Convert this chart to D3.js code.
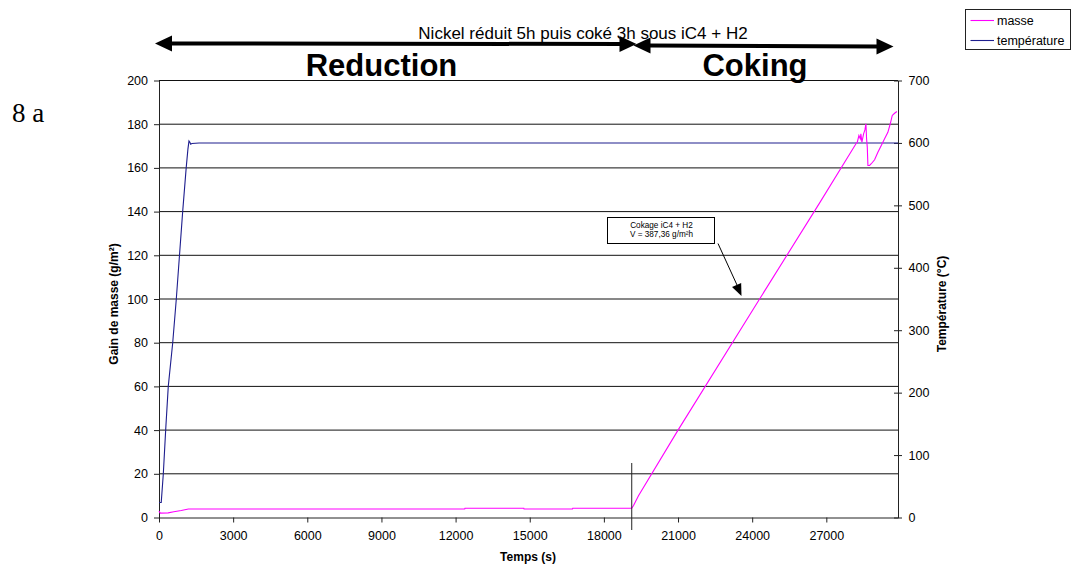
<!DOCTYPE html>
<html><head><meta charset="utf-8">
<script src="https://cdn.jsdelivr.net/npm/d3@7"></script>
<style>
html,body{margin:0;padding:0;background:#fff;}
svg{display:block;font-family:"Liberation Sans",Arial,sans-serif;}
</style></head>
<body>
<svg id="chart" width="1071" height="568"></svg>
<script>
// ---- data ----
const timeTicks = [0, 3000, 6000, 9000, 12000, 15000, 18000, 21000, 24000, 27000];
const massTicks = [0, 20, 40, 60, 80, 100, 120, 140, 160, 180, 200];
const tempTicks = [0, 100, 200, 300, 400, 500, 600, 700];

const tempTime  = [0, 90, 175, 270, 375, 555, 700, 958, 1100, 1170, 1213, 1250, 1282, 1330, 1620, 29900];
const tempValue = [24, 24, 70, 140, 210, 280, 350, 490, 560, 590, 603, 601, 598, 599, 600, 600];

const massTime  = [0, 50, 370, 600, 900, 1190, 12370, 12380, 14760, 14770, 16730, 16740, 19127, 19200, 19400,
                   21000, 24300, 26730, 28212, 28253, 28318, 28375, 28398, 28440, 28508, 28561, 28602, 28629,
                   28657, 28683, 28750, 28819, 28953, 29086, 29223, 29357, 29490, 29587, 29668, 29762, 29855];
const massValue = [3, 2.0, 2.1, 2.6, 3.2, 3.9, 3.9, 4.2, 4.2, 3.9, 3.9, 4.2, 4.2, 5.5, 10,
                   40, 100, 144, 171.3, 171.8, 174.8, 173.3, 175.6, 171.8, 175.6, 177.4, 180.2, 173.3,
                   169.5, 161.1, 161.1, 161.9, 163.7, 167.2, 170.3, 173.3, 176.3, 180.2, 184, 185, 185.8];

const seriesNames = ["masse", "température"];
const seriesColors = ["#ff00ff", "#1e1e8e"];
const switchTime = 19127;
const annotationLines = ["Cokage iC4 + H2", "V = 387,36 g/m²h"];
const titleText = "Nickel réduit 5h puis coké 3h sous iC4 + H2";

// ---- layout ----
const svg = d3.select("#chart");
const x  = d3.scaleLinear().domain([0, 29900]).range([159, 898]);
const yL = d3.scaleLinear().domain([0, 200]).range([517.5, 80.5]);
const yR = d3.scaleLinear().domain([0, 700]).range([517.5, 80.5]);

// gridlines
svg.append("g").selectAll("line").data(massTicks.filter(d => d > 0)).join("line")
  .attr("x1", x(0)).attr("x2", x(29900))
  .attr("y1", d => yL(d)).attr("y2", d => yL(d))
  .attr("stroke", "#111").attr("stroke-width", 1);

// axes
const axisFont = g => g.selectAll("text").attr("font-size", 12.5).attr("fill", "#000")
  .attr("font-family", "Liberation Sans, Arial, sans-serif");
const axisStroke = g => { g.selectAll("path,line").attr("stroke", "#222"); };

const gL = svg.append("g").attr("transform", `translate(${x(0)},0)`)
  .call(d3.axisLeft(yL).tickValues(massTicks).tickSize(5).tickSizeOuter(0).tickPadding(6));
gL.call(axisFont).call(axisStroke);

const gB = svg.append("g").attr("transform", `translate(0,${yL(0)})`)
  .call(d3.axisBottom(x).tickValues(timeTicks).tickSize(5).tickSizeOuter(0).tickPadding(9).tickFormat(d3.format("d")));
gB.call(axisFont).call(axisStroke);

const gR = svg.append("g").attr("transform", `translate(${x(29900)},0)`)
  .call(d3.axisRight(yR).tickValues(tempTicks).tickSize(4).tickSizeOuter(0).tickPadding(6.5));
gR.call(axisFont).call(axisStroke);
gR.selectAll(".tick line").attr("x1", -4).attr("x2", 4);

// series
const massLine = d3.line().x((d, i) => x(massTime[i])).y(d => yL(d));
const tempLine = d3.line().x((d, i) => x(tempTime[i])).y(d => yR(d));

svg.append("path").datum(tempValue).attr("d", tempLine)
  .attr("fill", "none").attr("stroke", seriesColors[1]).attr("stroke-width", 1.1);
svg.append("path").datum(massValue).attr("d", massLine)
  .attr("fill", "none").attr("stroke", seriesColors[0]).attr("stroke-width", 1.1);

// switch marker
svg.append("line").attr("x1", x(switchTime)).attr("x2", x(switchTime))
  .attr("y1", 463).attr("y2", 530).attr("stroke", "#222").attr("stroke-width", 1);

// axis titles
svg.append("text").attr("transform", "translate(118,304) rotate(-90)")
  .attr("text-anchor", "middle").attr("font-size", 12).attr("font-weight", "bold")
  .text("Gain de masse (g/m²)");
svg.append("text").attr("transform", "translate(946,304) rotate(-90)")
  .attr("text-anchor", "middle").attr("font-size", 12).attr("font-weight", "bold")
  .text("Température (°C)");
svg.append("text").attr("x", 528).attr("y", 561)
  .attr("text-anchor", "middle").attr("font-size", 12).attr("font-weight", "bold")
  .text("Temps (s)");

// figure label
svg.append("text").attr("x", 12).attr("y", 122)
  .attr("font-family", "Liberation Serif, Times New Roman, serif").attr("font-size", 27)
  .text("8 a");

// title
svg.append("text").attr("x", 583).attr("y", 39).attr("text-anchor", "middle")
  .attr("font-size", 17).text(titleText);

// phase arrows
function arrow(x1, y1, x2, y2) {
  const hl = 17, hw = 8;
  svg.append("line").attr("x1", x1 + hl - 2).attr("y1", y1).attr("x2", x2 - hl + 2).attr("y2", y2)
    .attr("stroke", "#000").attr("stroke-width", 4);
  svg.append("polygon").attr("fill", "#000")
    .attr("points", `${x1},${y1} ${x1 + hl},${y1 - hw} ${x1 + hl},${y1 + hw}`);
  svg.append("polygon").attr("fill", "#000")
    .attr("points", `${x2},${y2} ${x2 - hl},${y2 - hw} ${x2 - hl},${y2 + hw}`);
}
arrow(155, 43.5, 636.5, 44);
arrow(633.5, 45.5, 893.5, 46.5);

svg.append("text").attr("x", 381.5).attr("y", 76).attr("text-anchor", "middle")
  .attr("font-size", 31).attr("font-weight", "bold").text("Reduction");
svg.append("text").attr("x", 755).attr("y", 76).attr("text-anchor", "middle")
  .attr("font-size", 31).attr("font-weight", "bold").text("Coking");

// annotation
svg.append("rect").attr("x", 607.5).attr("y", 217.5).attr("width", 107).attr("height", 26)
  .attr("fill", "#fff").attr("stroke", "#000").attr("stroke-width", 1);
svg.append("g").selectAll("text").data(annotationLines).join("text")
  .attr("x", 661.5).attr("y", (d, i) => 228 + i * 9.2).attr("text-anchor", "middle")
  .attr("font-size", 8.2).text(d => d);
svg.append("line").attr("x1", 718).attr("y1", 243.5).attr("x2", 737).attr("y2", 285)
  .attr("stroke", "#000").attr("stroke-width", 1);
(function(){
  const tx = 741.5, ty = 296, ang = Math.atan2(296 - 243.5, 741.5 - 718);
  const L = 12, W = 5;
  const bx = tx - L * Math.cos(ang), by = ty - L * Math.sin(ang);
  const px = -Math.sin(ang) * W, py = Math.cos(ang) * W;
  svg.append("polygon").attr("fill", "#000")
    .attr("points", `${tx},${ty} ${bx + px},${by + py} ${bx - px},${by - py}`);
})();

// legend
const leg = svg.append("g");
leg.append("rect").attr("x", 965.5).attr("y", 9.5).attr("width", 105).attr("height", 40)
  .attr("fill", "#fff").attr("stroke", "#222").attr("stroke-width", 1);
leg.selectAll("line").data(seriesNames).join("line")
  .attr("x1", 970.5).attr("x2", 994).attr("y1", (d, i) => 20.5 + i * 20).attr("y2", (d, i) => 20.5 + i * 20)
  .attr("stroke", (d, i) => seriesColors[i]).attr("stroke-width", 1.1);
leg.selectAll("text").data(seriesNames).join("text")
  .attr("x", 997).attr("y", (d, i) => 25 + i * 20).attr("font-size", 12.5).text(d => d);
</script>
</body></html>
